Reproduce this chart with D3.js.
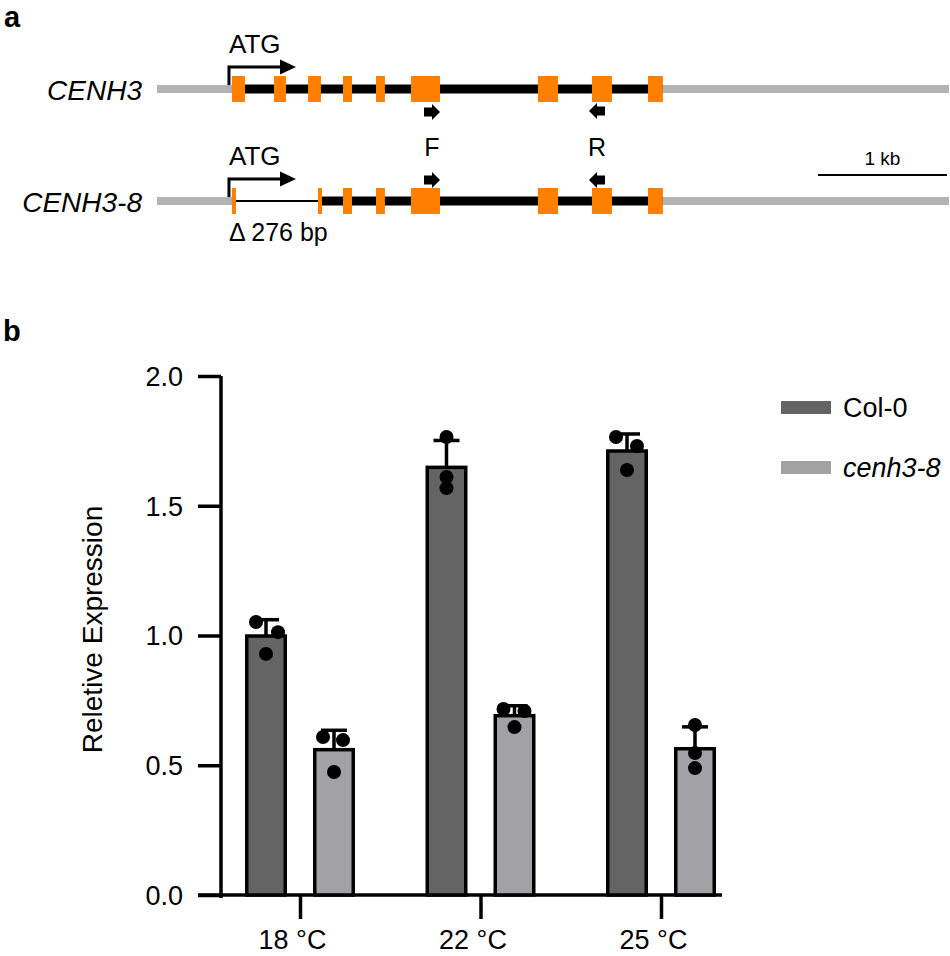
<!DOCTYPE html>
<html>
<head>
<meta charset="utf-8">
<title>CENH3 structure and expression</title>
<script src="https://cdn.jsdelivr.net/npm/d3@7"></script>
<style>
body { margin: 0; background: #fff; }
svg text { font-family: Arial, "Liberation Sans", sans-serif; fill: #000; }
.axis path, .axis line { stroke: #000; stroke-width: 3.5; }
.axis text { font-size: 27px; }
</style>
</head>
<body>
<svg id="fig" width="950" height="956"></svg>
<script>
// ---- panel a: gene models (bp from start of drawn region) ----
var geneSpan = [0, 6140];
var cdsSpan = [581, 3922];
var exonsWT = [[581, 682], [907, 1000], [1171, 1271], [1442, 1512], [1698, 1767],
               [1969, 2194], [2953, 3109], [3372, 3527], [3806, 3922]];
var exonsMut = [[581, 612], [1248, 1279], [1442, 1512], [1698, 1767],
                [1969, 2194], [2953, 3109], [3372, 3527], [3806, 3922]];
var deletion = [612, 1248];
var atgPos = 558;
var primerF = [2070, 2194];
var primerR = [3349, 3473];
var scaleBar = [5124, 6124];

// ---- panel b: relative expression, three replicates each ----
var temps = ["18 °C", "22 °C", "25 °C"];
var genotypes = ["Col-0", "cenh3-8"];
var col0Reps = [[1.052, 1.013, 0.929], [1.765, 1.611, 1.568], [1.765, 1.730, 1.638]];
var cenh3Reps = [[0.609, 0.597, 0.474], [0.717, 0.709, 0.647], [0.655, 0.547, 0.489]];
var yTicks = [0, 0.5, 1.0, 1.5, 2.0];

// horizontal spread of the replicate dots (px), like the prism scatter
var jitter = {
  "Col-0":   [[-10, 12, 0], [0, 0, 0], [-11, 10, 0]],
  "cenh3-8": [[-11, 9, 0], [-11, 10, 0], [0, 0, 0]]
};
var colors = { "Col-0": "#646464", "cenh3-8": "#a2a2a6" };

var svg = d3.select("#fig");

// ===================== panel a =====================
var gx = d3.scaleLinear().domain(geneSpan).range([157, 949]);
var orange = "#ff8000";

svg.append("text").attr("x", 4).attr("y", 27)
  .style("font-weight", "bold").style("font-size", "29px").text("a");

function drawGene(cy, name, exons, mutant) {
  var g = svg.append("g");
  g.append("text").attr("x", 142).attr("y", cy + 11)
    .attr("text-anchor", "end").style("font-style", "italic").style("font-size", "28px")
    .text(name);
  // flanking / UTR in grey
  [[geneSpan[0], cdsSpan[0]], [cdsSpan[1], geneSpan[1]]].forEach(function(s) {
    g.append("line").attr("x1", gx(s[0])).attr("x2", gx(s[1]))
      .attr("y1", cy).attr("y2", cy).attr("stroke", "#b3b3b3").attr("stroke-width", 8);
  });
  // coding region in black
  if (mutant) {
    g.append("line").attr("x1", gx(cdsSpan[0])).attr("x2", gx(deletion[0]))
      .attr("y1", cy).attr("y2", cy).attr("stroke", "#000").attr("stroke-width", 9);
    g.append("line").attr("x1", gx(deletion[0])).attr("x2", gx(deletion[1]))
      .attr("y1", cy).attr("y2", cy).attr("stroke", "#000").attr("stroke-width", 2.2);
    g.append("line").attr("x1", gx(deletion[1])).attr("x2", gx(cdsSpan[1]))
      .attr("y1", cy).attr("y2", cy).attr("stroke", "#000").attr("stroke-width", 9);
  } else {
    g.append("line").attr("x1", gx(cdsSpan[0])).attr("x2", gx(cdsSpan[1]))
      .attr("y1", cy).attr("y2", cy).attr("stroke", "#000").attr("stroke-width", 9);
  }
  g.selectAll("rect.exon").data(exons).enter().append("rect")
    .attr("class", "exon")
    .attr("x", function(d) { return gx(d[0]); })
    .attr("width", function(d) { return gx(d[1]) - gx(d[0]); })
    .attr("y", cy - 13).attr("height", 26)
    .attr("fill", orange);
  // ATG bent arrow
  var ax = gx(atgPos), ay = cy - 22;
  g.append("path")
    .attr("d", "M" + ax + "," + (cy - 4) + "V" + ay + "H" + (ax + 54))
    .attr("fill", "none").attr("stroke", "#000").attr("stroke-width", 3);
  g.append("path")
    .attr("d", "M" + (ax + 51) + "," + (ay - 7.5) + "L" + (ax + 67) + "," + ay + "L" + (ax + 51) + "," + (ay + 7.5) + "Z")
    .attr("fill", "#000");
  g.append("text").attr("x", ax).attr("y", ay - 14).style("font-size", "26px").text("ATG");
  return g;
}

// small block arrow for a primer
function primerArrow(g, span, cy, dir) {
  var x0 = gx(span[0]), x1 = gx(span[1]);
  var tip = dir > 0 ? x1 : x0, tail = dir > 0 ? x0 : x1, s = dir > 0 ? 1 : -1;
  var neck = tip - s * 8;
  var p = "M" + tail + "," + (cy - 4.5) + "H" + neck + "V" + (cy - 8) + "L" + tip + "," + cy +
          "L" + neck + "," + (cy + 8) + "V" + (cy + 4.5) + "H" + tail + "Z";
  g.append("path").attr("d", p).attr("fill", "#000");
}

var wt = drawGene(89, "CENH3", exonsWT, false);
primerArrow(wt, primerF, 112, 1);
primerArrow(wt, primerR, 111, -1);

var mut = drawGene(201, "CENH3-8", exonsMut, true);
primerArrow(mut, primerF, 180, 1);
primerArrow(mut, primerR, 180, -1);
mut.append("text").attr("x", gx((primerF[0] + primerF[1]) / 2)).attr("y", 156)
  .attr("text-anchor", "middle").style("font-size", "25px").text("F");
mut.append("text").attr("x", gx((primerR[0] + primerR[1]) / 2)).attr("y", 156)
  .attr("text-anchor", "middle").style("font-size", "25px").text("R");
mut.append("text").attr("x", gx(atgPos)).attr("y", 241)
  .style("font-size", "25px").text("\u0394 276 bp");

// scale bar
svg.append("line").attr("x1", gx(scaleBar[0])).attr("x2", gx(scaleBar[1]))
  .attr("y1", 175).attr("y2", 175).attr("stroke", "#000").attr("stroke-width", 2);
svg.append("text").attr("x", (gx(scaleBar[0]) + gx(scaleBar[1])) / 2).attr("y", 165)
  .attr("text-anchor", "middle").style("font-size", "19px").text("1 kb");

// ===================== panel b =====================
svg.append("text").attr("x", 3).attr("y", 341)
  .style("font-weight", "bold").style("font-size", "29px").text("b");

var y = d3.scaleLinear().domain([0, 2]).range([895, 376]);
var x0 = d3.scalePoint().domain(temps).range([300, 661]);
var x1 = d3.scalePoint().domain(genotypes).range([-34, 34]);
var barW = 38.5;

var rows = [];
temps.forEach(function(t, i) {
  [col0Reps[i], cenh3Reps[i]].forEach(function(reps, k) {
    var gt = genotypes[k];
    rows.push({ temp: t, geno: gt, i: i, reps: reps,
                mean: d3.mean(reps), sd: d3.deviation(reps) });
  });
});

var plot = svg.append("g");

// y axis
var yAxis = plot.append("g").attr("class", "axis")
  .attr("transform", "translate(221,0)")
  .call(d3.axisLeft(y).tickValues(yTicks).tickFormat(d3.format(".1f"))
        .tickSize(23).tickSizeOuter(0).tickPadding(15));
yAxis.selectAll("text").attr("dy", "0.35em");
yAxis.select(".domain").attr("d", "M0," + y(2) + "V" + (y(0) + 3));

// x axis
var xAxis = plot.append("g").attr("class", "axis")
  .attr("transform", "translate(0,895)")
  .call(d3.axisBottom(x0).tickSize(24).tickSizeOuter(0));
xAxis.select(".domain").attr("d", "M198,0H722");
xAxis.selectAll("text").attr("y", 54).attr("dy", 0).attr("dx", "-8");

// bars
plot.selectAll("rect.bar").data(rows).enter().append("rect")
  .attr("class", "bar")
  .attr("x", function(d) { return x0(d.temp) + x1(d.geno) - barW / 2; })
  .attr("width", barW)
  .attr("y", function(d) { return y(d.mean); })
  .attr("height", function(d) { return y(0) - y(d.mean); })
  .attr("fill", function(d) { return colors[d.geno]; })
  .attr("stroke", "#000").attr("stroke-width", 3.5);

// error bars (mean + SD, upward only)
var eb = plot.selectAll("g.err").data(rows).enter().append("g").attr("class", "err");
eb.append("line")
  .attr("x1", function(d) { return x0(d.temp) + x1(d.geno); })
  .attr("x2", function(d) { return x0(d.temp) + x1(d.geno); })
  .attr("y1", function(d) { return y(d.mean); })
  .attr("y2", function(d) { return y(d.mean + d.sd); })
  .attr("stroke", "#000").attr("stroke-width", 3.5);
eb.append("line")
  .attr("x1", function(d) { return x0(d.temp) + x1(d.geno) - 13; })
  .attr("x2", function(d) { return x0(d.temp) + x1(d.geno) + 13; })
  .attr("y1", function(d) { return y(d.mean + d.sd); })
  .attr("y2", function(d) { return y(d.mean + d.sd); })
  .attr("stroke", "#000").attr("stroke-width", 3.5);

// replicate dots
var pts = [];
rows.forEach(function(r) {
  r.reps.forEach(function(v, j) {
    pts.push({ temp: r.temp, geno: r.geno, v: v, dx: jitter[r.geno][r.i][j] });
  });
});
plot.selectAll("circle.pt").data(pts).enter().append("circle")
  .attr("class", "pt")
  .attr("cx", function(d) { return x0(d.temp) + x1(d.geno) + d.dx; })
  .attr("cy", function(d) { return y(d.v); })
  .attr("r", 7)
  .attr("fill", "#000");

// y label
svg.append("text")
  .attr("transform", "translate(102," + ((y(0) + y(2)) / 2 - 6) + ") rotate(-90)")
  .attr("text-anchor", "middle").style("font-size", "28px")
  .text("Reletive Expression");

// legend
var leg = svg.append("g").attr("transform", "translate(781,401)");
genotypes.forEach(function(gt, k) {
  var row = leg.append("g").attr("transform", "translate(0," + (k * 60) + ")");
  row.append("rect").attr("width", 50).attr("height", 13).attr("fill", colors[gt]);
  row.append("text").attr("x", 62).attr("y", 15.5)
    .style("font-size", "27px").style("font-style", k === 1 ? "italic" : "normal")
    .text(gt);
});
</script>
</body>
</html>
